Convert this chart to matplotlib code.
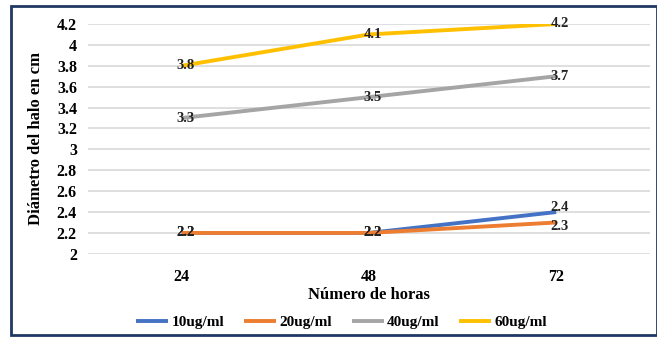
import numpy as np
import matplotlib.pyplot as plt
from matplotlib.patches import Rectangle

hours = ["24", "48", "72"]
series_names = ["10ug/ml", "20ug/ml", "40ug/ml", "60ug/ml"]
s10 = [2.2, 2.2, 2.4]
s20 = [2.2, 2.2, 2.3]
s40 = [3.3, 3.5, 3.7]
s60 = [3.8, 4.1, 4.2]
colors = ["#4472C4", "#ED7D31", "#A5A5A5", "#FFC000"]

plt.rcParams["font.family"] = ["Liberation Serif", "DejaVu Serif"]
plt.rcParams["font.weight"] = "bold"

fig = plt.figure(figsize=(6.57, 3.38), dpi=100)
ax = fig.add_axes([0.134, 0.249, 0.855, 0.68])

x = np.arange(len(hours))
# small vertical nudges so the close labels at 72 h don't sit on each other
nudges = {("10ug/ml", 2): 3, ("20ug/ml", 2): -3}
for vals, name, c in zip([s10, s20, s40, s60], series_names, colors):
    ax.plot(x, vals, color=c, linewidth=2.8, label=name, solid_capstyle="butt")
    for xi, v in zip(x, vals):
        dy = nudges.get((name, xi), 0)
        ax.annotate(f"{v:g}", (xi + 0.02, v), xytext=(0, dy), textcoords="offset points",
                    ha="center", va="center", fontsize=10.5, fontweight="bold",
                    color="#222222")

ax.set_xlim(-0.5, 2.5)
ax.set_ylim(2, 4.2)
ax.set_yticks(np.arange(2, 4.21, 0.2))
ax.set_yticklabels([f"{t:g}" for t in np.arange(2, 4.21, 0.2).round(1)])
ax.set_xticks(x)
ax.set_xticklabels(hours)
ax.tick_params(length=0, labelsize=11.5, pad=8)
ax.tick_params(axis="x", pad=11)
for s in ax.spines.values():
    s.set_visible(False)
ax.grid(axis="y", color="#D9D9D9", linewidth=1.2)
ax.set_axisbelow(True)

ax.set_ylabel("Diámetro del halo en cm", fontsize=12, fontweight="bold", labelpad=9)
ax.set_xlabel("Número de horas", fontsize=12, fontweight="bold", labelpad=1)

fig.legend(loc="center", bbox_to_anchor=(0.52, 0.047), ncol=4, frameon=False,
           fontsize=11, handlelength=2.1, columnspacing=1.3, handletextpad=0.2)

fig.patches.append(Rectangle((0.016, 0.008), 0.984, 0.975, transform=fig.transFigure,
                             fill=False, edgecolor="#1F3864", linewidth=2))

fig.savefig("out.png", dpi=100)
